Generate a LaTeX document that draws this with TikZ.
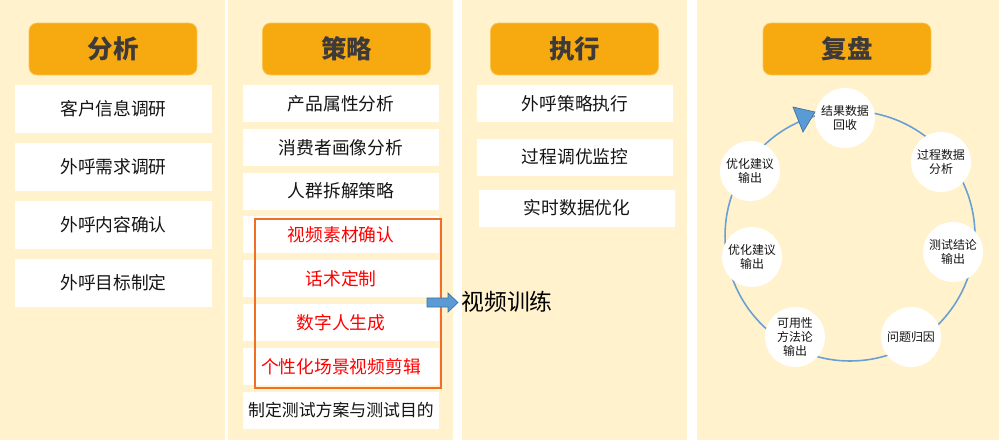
\documentclass[tikz,border=0pt]{standalone}
\usepackage{fontspec}
\newfontfamily\cjk{Noto Sans CJK SC}
\definecolor{panelbg}{RGB}{255,242,204}
\definecolor{headfill}{RGB}{246,170,16}
\definecolor{headedge}{RGB}{250,196,80}
\definecolor{headtext}{RGB}{62,58,58}
\definecolor{itemtext}{RGB}{20,20,20}
\definecolor{framered}{RGB}{240,110,40}
\definecolor{arrowblue}{RGB}{91,155,213}
\definecolor{arrowedge}{RGB}{65,113,156}
\definecolor{ringblue}{RGB}{104,160,214}
\begin{document}
\begin{tikzpicture}[x=0.02cm,y=-0.02cm,
  headbox/.style={fill=headfill,draw=headedge,line width=0.4pt,rounded corners=0.16cm,
    minimum width=3.36cm,minimum height=1.04cm,inner sep=0pt,
    font=\cjk\bfseries\fontsize{14.5}{16}\selectfont,text=headtext},
  infobox/.style={fill=white,minimum width=3.92cm,minimum height=0.74cm,inner sep=0pt,
    font=\cjk\fontsize{10.1}{12}\selectfont,text=itemtext},
  widebox/.style={infobox,minimum width=3.94cm,minimum height=0.96cm},
  redbox/.style={infobox,text=red},
  stagecircle/.style={circle,fill=white,minimum size=1.2cm,inner sep=0pt,align=center,
    font=\cjk\fontsize{6.8}{8.2}\selectfont,text=itemtext},
  blockarrow/.style={fill=arrowblue,draw=arrowedge,line width=0.4pt,line join=miter}
  ]
\useasboundingbox (0,0) rectangle (1000,440);%

% Drawing the four column backgrounds
\fill[panelbg] (0,0) rectangle (225,440);%
\fill[panelbg] (228,0) rectangle (453,440);%
\fill[panelbg] (462,0) rectangle (687,440);%
\fill[panelbg] (697,0) rectangle (999,440);%

% Marking column heads
\node[headbox] (headA) at (113,49) {分析};%
\node[headbox] (headB) at (346.5,49) {策略};%
\node[headbox] (headC) at (574.5,49) {执行};%
\node[headbox] (headD) at (847,49) {复盘};%

% Analysis column
\node[widebox] (anaA) at (113.5,109) {客户信息调研};%
\node[widebox] (anaB) at (113.5,167) {外呼需求调研};%
\node[widebox] (anaC) at (113.5,225) {外呼内容确认};%
\node[widebox] (anaD) at (113.5,283) {外呼目标制定};%

% Strategy column
\node[infobox] (strA) at (341,103.5) {产品属性分析};%
\node[infobox] (strB) at (341,147.3) {消费者画像分析};%
\node[infobox] (strC) at (341,191.1) {人群拆解策略};%
\node[redbox] (strD) at (341,234.9) {视频素材确认};%
\node[redbox] (strE) at (341,278.7) {话术定制};%
\node[redbox] (strF) at (341,322.5) {数字人生成};%
\node[redbox] (strG) at (341,366.3) {个性化场景视频剪辑};%
\node[infobox,font=\cjk\fontsize{9.6}{11}\selectfont] (strH) at (341,410.1) {制定测试方案与测试目的};%

% Framing the video steps and pointing to training
\node[draw=framered,line width=0.8pt,minimum width=3.72cm,minimum height=3.38cm,inner sep=0pt] (videoframe) at (348,303.5) {};%
\node[anchor=west,inner sep=0pt,font=\cjk\fontsize{13}{15}\selectfont] (training) at (461,302) {视频训练};%
\coordinate (arrowtail) at (427,302.5);%
\filldraw[blockarrow] (arrowtail) ++(0,-4.5) -- ++(21,0) -- ++(0,-5) -- ++(10,9.5)
  -- ++(-10,9.5) -- ++(0,-5) -- ++(-21,0) -- cycle;%

% Execution column
\node[infobox] (exeA) at (575,103.5) {外呼策略执行};%
\node[infobox] (exeB) at (575,157) {过程调优监控};%
\node[infobox] (exeC) at (577,208) {实时数据优化};%

% Review cycle ring with its arrow head
\coordinate (hub) at (850,236);%
\draw[ringblue,line width=0.9pt] (hub) circle [radius=2.5cm];%
\filldraw[blockarrow] (793,107) -- (815,112) -- (803,132) -- cycle;%

% Marking review stages
\node[stagecircle] (revA) at (845,118) {结果数据\\回收};%
\node[stagecircle] (revB) at (941,162) {过程数据\\分析};%
\node[stagecircle] (revC) at (953,252) {测试结论\\输出};%
\node[stagecircle] (revD) at (911,337) {问题归因};%
\node[stagecircle] (revE) at (795,337) {可用性\\方法论\\输出};%
\node[stagecircle] (revF) at (752,257) {优化建议\\输出};%
\node[stagecircle] (revG) at (750,171) {优化建议\\输出};%
\end{tikzpicture}
\end{document}
